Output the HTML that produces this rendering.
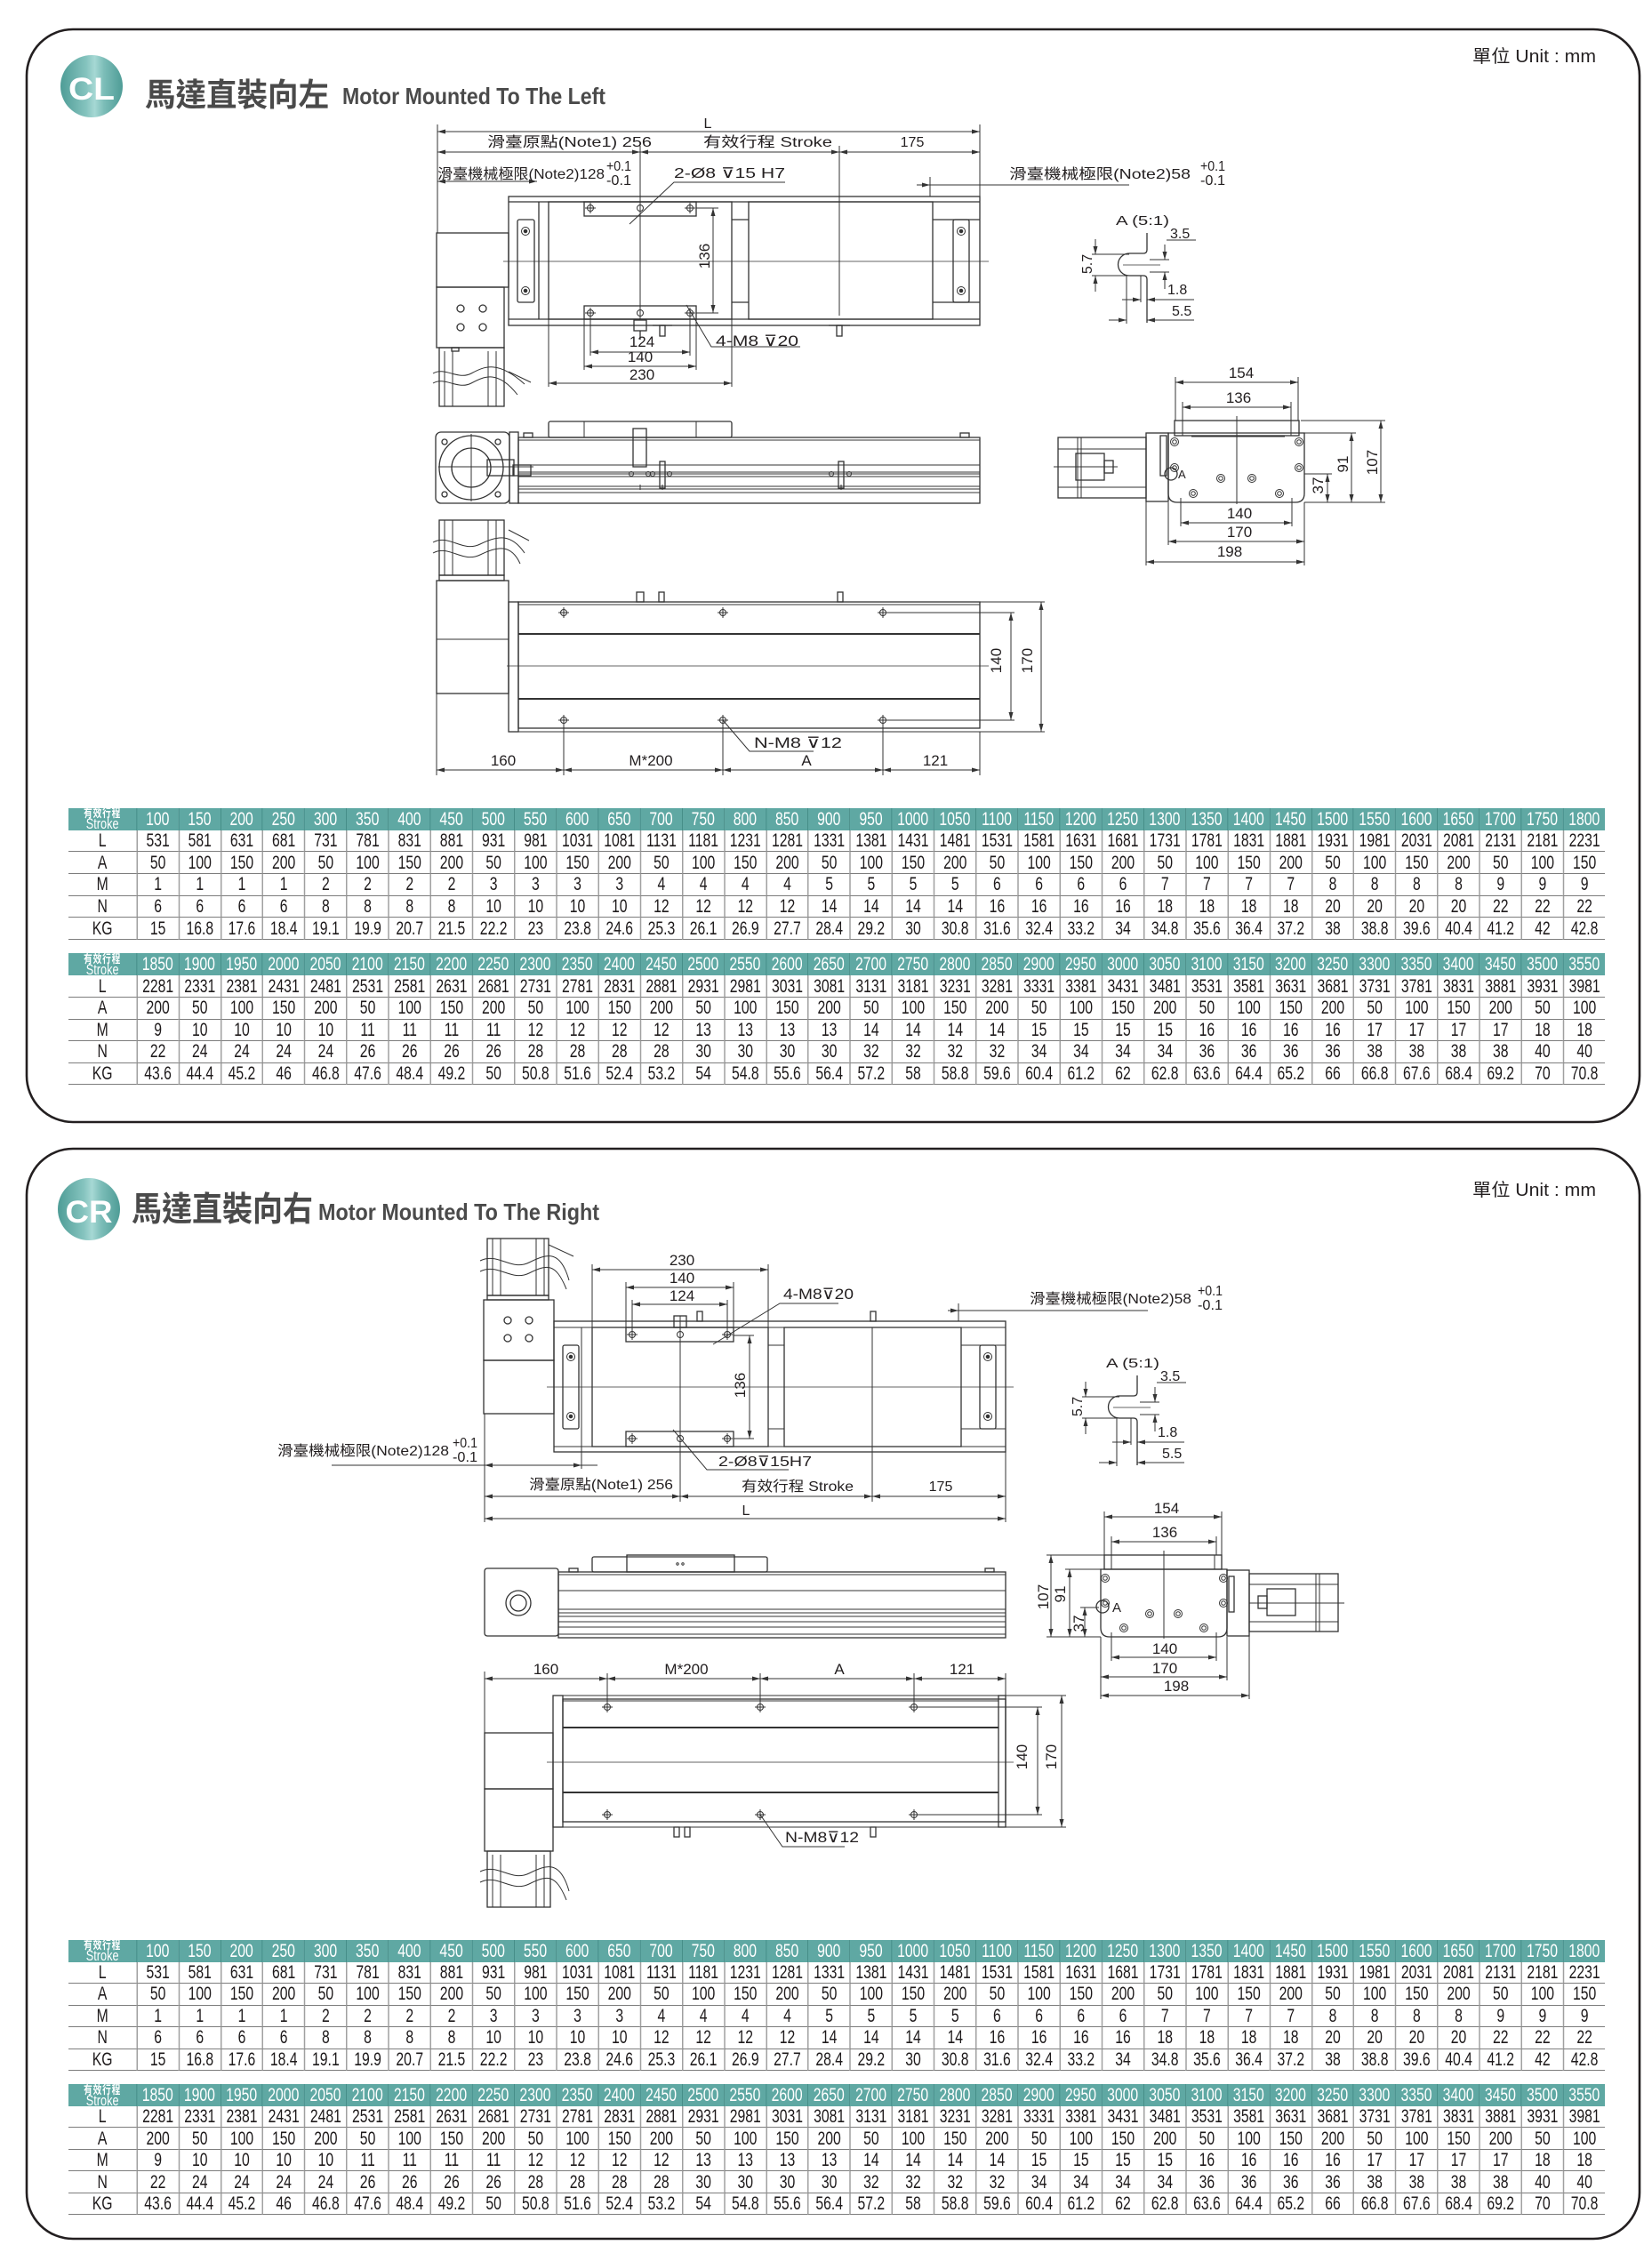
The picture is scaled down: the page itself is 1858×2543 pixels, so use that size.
<!DOCTYPE html>
<html><head><meta charset="utf-8">
<style>
html,body{margin:0;padding:0;background:#fff}
body{width:1858px;height:2543px;position:relative;overflow:hidden}
svg{position:absolute;left:0;top:0}
.f{stroke:#333;stroke-width:1;fill:none}
.s{stroke:#333;stroke-width:1.3;fill:none}
.m{marker-start:url(#a);marker-end:url(#a)}
.me{marker-end:url(#a)}
.t{font-family:"Liberation Sans","Noto Sans CJK TC","DejaVu Sans",sans-serif;font-size:16px;fill:#231f20;stroke:none}
.c{text-anchor:middle}
.g{position:absolute;left:76.7px;width:2305px;display:grid;grid-template-columns:101.7px repeat(35,62.93px);transform:scaleX(.75);transform-origin:0 0;font-family:"Liberation Sans",sans-serif;font-size:21px;color:#1e1a1b}
.g i{font-style:normal;box-sizing:border-box;display:flex;align-items:center;justify-content:center;line-height:1;border-bottom:1.6px solid #7d7d7d;border-left:2px solid #a0a0a0;white-space:nowrap}
.g i:nth-child(-n+36){background:#5fa8a3;color:#fff;border-bottom:none;border-left:1.5px solid #3e8580}
.g i:nth-child(36n+1){border-left:none}
.g i.h{flex-direction:column;font-family:"Liberation Sans","Noto Sans CJK TC",sans-serif}
.h b{display:block;line-height:11px}
.h b:first-child{font-size:13px;letter-spacing:1px}
.h b:last-child{font-size:17px;font-weight:normal;line-height:13px}
</style></head><body>
<svg width="1858" height="2543" viewBox="0 0 1858 2543">
<defs>
<marker id="a" viewBox="0 0 9 5" refX="9" refY="2.5" markerWidth="9" markerHeight="5" markerUnits="userSpaceOnUse" orient="auto-start-reverse"><path d="M0,0L9,2.5L0,5z" fill="#333"/></marker>
<linearGradient id="cg" x1="0" x2="1" y1="0" y2="0"><stop offset="0" stop-color="#4e9c96"/><stop offset=".42" stop-color="#86c4bf"/><stop offset=".55" stop-color="#a6d8d4"/><stop offset=".7" stop-color="#7cbdb8"/><stop offset="1" stop-color="#4e9c96"/></linearGradient>
<g id="hx"><circle r="3.5"/><line x1="-6" x2="6" y1="0" y2="0"/><line x1="0" x2="0" y1="-6" y2="6"/></g>
<g id="hd"><circle r="4.5"/><circle r="1.8" fill="#333"/></g>
<g id="hc"><circle r="4.5"/><circle r="2.3"/></g>
</defs>

<!-- cards -->
<path d="M82,33H1792A52,52 0 0 1 1844,85V1210A52,52 0 0 1 1792,1262H82A52,52 0 0 1 30,1210V85A52,52 0 0 1 82,33Z" fill="none" stroke="#231f20" stroke-width="2.6"/>
<path d="M82,1292H1792A52,52 0 0 1 1844,1344V2466A52,52 0 0 1 1792,2518H82A52,52 0 0 1 30,2466V1344A52,52 0 0 1 82,1292Z" fill="none" stroke="#231f20" stroke-width="2.6"/>

<!-- titles -->
<circle cx="103" cy="97" r="35" fill="url(#cg)"/>
<text x="103" y="112" text-anchor="middle" font-family="'Liberation Sans',sans-serif" font-size="35" font-weight="bold" fill="#fff" textLength="52" lengthAdjust="spacingAndGlyphs">CL</text>
<text x="163" y="119" font-family="'Liberation Sans','Noto Sans CJK TC',sans-serif" font-size="36" font-weight="bold" fill="#4a4a4a" textLength="207" lengthAdjust="spacingAndGlyphs">馬達直裝向左</text>
<text x="385" y="117" font-family="'Liberation Sans',sans-serif" font-size="26" font-weight="bold" fill="#4a4a4a" textLength="296" lengthAdjust="spacingAndGlyphs">Motor Mounted To The Left</text>
<text x="1656" y="70" font-family="'Liberation Sans','Noto Sans CJK TC',sans-serif" font-size="20" fill="#231f20" textLength="139" lengthAdjust="spacingAndGlyphs">單位 Unit : mm</text>

<circle cx="100" cy="1360" r="35" fill="url(#cg)"/>
<text x="100" y="1375" text-anchor="middle" font-family="'Liberation Sans',sans-serif" font-size="35" font-weight="bold" fill="#fff" textLength="53" lengthAdjust="spacingAndGlyphs">CR</text>
<text x="148" y="1373" font-family="'Liberation Sans','Noto Sans CJK TC',sans-serif" font-size="38" font-weight="bold" fill="#4a4a4a" textLength="204" lengthAdjust="spacingAndGlyphs">馬達直裝向右</text>
<text x="358" y="1372" font-family="'Liberation Sans',sans-serif" font-size="26" font-weight="bold" fill="#4a4a4a" textLength="316" lengthAdjust="spacingAndGlyphs">Motor Mounted To The Right</text>
<text x="1656" y="1345" font-family="'Liberation Sans','Noto Sans CJK TC',sans-serif" font-size="20" fill="#231f20" textLength="139" lengthAdjust="spacingAndGlyphs">單位 Unit : mm</text>

<!-- ================= CL TOP VIEW ================= -->
<g class="f">
<line x1="492" y1="148" x2="1102" y2="148" class="m"/>
<line x1="492" y1="140" x2="492" y2="262"/>
<line x1="1102" y1="140" x2="1102" y2="221"/>
<line x1="492" y1="171" x2="720" y2="171" class="m"/>
<line x1="720" y1="171" x2="944" y2="171" class="m"/>
<line x1="944" y1="171" x2="1102" y2="171" class="m"/>
<line x1="720" y1="164" x2="720" y2="359"/>
<line x1="944" y1="164" x2="944" y2="355"/>
<line x1="492" y1="204" x2="604" y2="204" class="m"/>
<polyline points="883,205 758,205 708,252"/>
<line x1="1031" y1="208" x2="1046" y2="208" class="me"/>
<line x1="1046" y1="208" x2="1270" y2="208"/>
<line x1="1046" y1="199" x2="1046" y2="221"/>
<line x1="802" y1="234" x2="802" y2="352" class="m"/>
<line x1="783" y1="234" x2="808" y2="234"/>
<line x1="783" y1="352" x2="808" y2="352"/>
<line x1="664" y1="396" x2="776" y2="396" class="m"/>
<line x1="657" y1="412" x2="783" y2="412" class="m"/>
<line x1="617" y1="431" x2="823" y2="431" class="m"/>
<line x1="664" y1="356" x2="664" y2="400"/>
<line x1="776" y1="356" x2="776" y2="400"/>
<line x1="657" y1="359" x2="657" y2="416"/>
<line x1="783" y1="359" x2="783" y2="416"/>
<line x1="617" y1="359" x2="617" y2="435"/>
<line x1="823" y1="359" x2="823" y2="435"/>
<polyline points="772,343 800,390 900,390"/>
<line x1="566" y1="294" x2="1112" y2="294" stroke-width=".8"/>
</g>
<g class="s">
<rect x="572" y="221" width="530" height="145"/>
<line x1="572" y1="227" x2="1102" y2="227"/>
<line x1="572" y1="359" x2="1102" y2="359"/>
<rect x="582" y="247" width="19" height="93" rx="2"/>
<line x1="606" y1="227" x2="606" y2="359"/>
<rect x="617" y="227" width="206" height="132"/>
<rect x="657" y="227" width="126" height="16"/>
<rect x="657" y="344" width="126" height="15"/>
<rect x="842" y="227" width="207" height="132"/>
<line x1="823" y1="247" x2="842" y2="247"/>
<line x1="823" y1="340" x2="842" y2="340"/>
<line x1="1049" y1="247" x2="1102" y2="247"/>
<line x1="1049" y1="340" x2="1102" y2="340"/>
<rect x="1072" y="247" width="18" height="93" rx="2"/>
<rect x="713" y="360" width="14" height="12"/><line x1="720" y1="372" x2="720" y2="382"/>
<rect x="742" y="366" width="6" height="12"/><line x1="734" y1="366" x2="756" y2="366"/>
<rect x="941" y="366" width="6" height="12"/><line x1="932" y1="366" x2="956" y2="366"/>
<!-- motor -->
<rect x="491" y="262" width="81" height="61"/>
<rect x="491" y="323" width="76" height="68"/>
<circle cx="518" cy="347" r="4"/><circle cx="543" cy="347" r="4"/><circle cx="518" cy="368" r="4"/><circle cx="543" cy="368" r="4"/>
<rect x="494" y="391" width="73" height="66"/>
<rect x="508" y="391" width="8" height="4"/>
</g>
<g class="f">
<line x1="500" y1="395" x2="500" y2="457"/><line x1="509" y1="395" x2="509" y2="457"/>
<line x1="549" y1="395" x2="549" y2="457"/><line x1="558" y1="395" x2="558" y2="457"/>
<path d="M487,420 C500,412 515,428 530,420 S560,405 590,432"/>
<path d="M487,431 C500,423 515,439 530,431 S560,416 582,444"/>
<line x1="572" y1="418" x2="597" y2="430"/>
<use href="#hd" x="591" y="260"/><use href="#hd" x="591" y="327"/>
<use href="#hd" x="1081" y="260"/><use href="#hd" x="1081" y="327"/>
<use href="#hx" x="664" y="234"/><use href="#hx" x="776" y="234"/>
<use href="#hx" x="664" y="352"/><use href="#hx" x="776" y="352"/>
<circle cx="720" cy="234" r="3.5"/><circle cx="720" cy="352" r="3.5"/>
</g>
<g class="t">
<text x="796" y="144" class="c">L</text>
<text x="548" y="165" textLength="185" lengthAdjust="spacingAndGlyphs">滑臺原點(Note1) 256</text>
<text x="791" y="165" textLength="145" lengthAdjust="spacingAndGlyphs">有效行程 Stroke</text>
<text x="1026" y="165" class="c">175</text>
<text x="492" y="201" textLength="188" lengthAdjust="spacingAndGlyphs">滑臺機械極限(Note2)128</text>
<text x="682" y="192" font-size="16" textLength="28" lengthAdjust="spacingAndGlyphs">+0.1</text><text x="682" y="208" font-size="16" textLength="28" lengthAdjust="spacingAndGlyphs">-0.1</text>
<text x="758" y="200" textLength="125" lengthAdjust="spacingAndGlyphs">2-Ø8 ⊽15 H7</text>
<text x="1135" y="201" textLength="204" lengthAdjust="spacingAndGlyphs">滑臺機械極限(Note2)58</text>
<text x="1350" y="192" font-size="16" textLength="28" lengthAdjust="spacingAndGlyphs">+0.1</text><text x="1350" y="208" font-size="16" textLength="28" lengthAdjust="spacingAndGlyphs">-0.1</text>
<text transform="translate(798,288) rotate(-90)" class="c" font-size="17">136</text>
<text x="722" y="390" class="c" font-size="17">124</text>
<text x="720" y="407" class="c" font-size="17">140</text>
<text x="722" y="427" class="c" font-size="17">230</text>
<text x="805" y="389" textLength="93" lengthAdjust="spacingAndGlyphs" font-size="17">4-M8 ⊽20</text>
</g>

<!-- A detail CL -->
<g>
<g class="f">
<path d="M1290,262V281Q1290,285 1286,285H1270A12.5,12.5 0 0 0 1270,310H1286Q1290,310 1290,314V363" stroke-width="1.3"/>
<line x1="1283" y1="310" x2="1283" y2="340"/>
<line x1="1267" y1="310" x2="1267" y2="364"/>
<line x1="1263" y1="298" x2="1305" y2="298" stroke-width=".7"/>
<line x1="1293" y1="292" x2="1315" y2="292"/>
<line x1="1293" y1="306" x2="1315" y2="306"/>
<line x1="1310" y1="275" x2="1310" y2="292" class="me"/>
<line x1="1310" y1="325" x2="1310" y2="306" class="me"/>
<line x1="1312" y1="270" x2="1345" y2="270"/>
<line x1="1232" y1="269" x2="1232" y2="286" class="me"/>
<line x1="1232" y1="328" x2="1232" y2="310" class="me"/>
<line x1="1228" y1="286" x2="1270" y2="286"/>
<line x1="1228" y1="310" x2="1270" y2="310"/>
<line x1="1262" y1="337" x2="1283" y2="337" class="me"/>
<line x1="1343" y1="337" x2="1290" y2="337" class="me"/>
<line x1="1247" y1="360" x2="1267" y2="360" class="me"/>
<line x1="1343" y1="360" x2="1290" y2="360" class="me"/>
</g>
</g>
<g class="t">
<text x="1255" y="253" font-size="15" textLength="60" lengthAdjust="spacingAndGlyphs">A (5:1)</text>
<text x="1316" y="268">3.5</text>
<text transform="translate(1228,297) rotate(-90)" class="c">5.7</text>
<text x="1313" y="331">1.8</text>
<text x="1318" y="355">5.5</text>
</g>

<!-- CL SIDE VIEW -->
<g class="s">
<rect x="490" y="486" width="83" height="80" rx="6"/>
<circle cx="530" cy="526" r="36"/>
<circle cx="530" cy="526" r="22"/>
<rect x="548" y="517" width="30" height="18"/>
<circle cx="500" cy="497" r="3"/><circle cx="560" cy="497" r="3"/><circle cx="500" cy="556" r="3"/><circle cx="560" cy="556" r="3"/>
<rect x="573" y="486" width="10" height="80"/>
<rect x="583" y="492" width="519" height="74"/>
<rect x="617" y="474" width="206" height="18" rx="2"/>
<rect x="712" y="482" width="15" height="43"/>
<rect x="742" y="519" width="6" height="30"/>
<rect x="943" y="519" width="6" height="30"/>
<rect x="577" y="523" width="20" height="12"/>
<rect x="589" y="487" width="10" height="5"/>
<rect x="1080" y="487" width="10" height="5"/>
</g>
<g class="f">
<line x1="583" y1="495" x2="1102" y2="495"/>
<line x1="583" y1="523" x2="1102" y2="523"/>
<line x1="583" y1="531" x2="1102" y2="531"/>
<line x1="583" y1="533" x2="1102" y2="533"/>
<line x1="583" y1="536" x2="1102" y2="536"/>
<line x1="583" y1="547" x2="1102" y2="547"/>
<line x1="583" y1="550" x2="1102" y2="550"/>
<line x1="583" y1="554" x2="1102" y2="554"/>
<line x1="657" y1="474" x2="657" y2="492"/>
<line x1="783" y1="474" x2="783" y2="492"/>
<line x1="530" y1="488" x2="530" y2="564"/>
<line x1="493" y1="525" x2="600" y2="525"/>
<circle cx="710" cy="533" r="2.5"/><circle cx="729" cy="533" r="2.5"/><circle cx="734" cy="533" r="2.5"/><circle cx="753" cy="533" r="2.5"/><circle cx="935" cy="533" r="2.5"/><circle cx="955" cy="533" r="2.5"/>
<line x1="720" y1="545" x2="720" y2="551"/><line x1="745" y1="545" x2="745" y2="551"/><line x1="946" y1="545" x2="946" y2="551"/>
</g>

<!-- CL END VIEW -->
<g class="s">
<rect x="1321" y="473" width="140" height="17"/>
<path d="M1314,487H1467V555Q1467,565 1457,565H1324Q1314,565 1314,555Z"/>
<rect x="1289" y="487" width="25" height="77"/>
<rect x="1190" y="492" width="99" height="68"/>
<rect x="1210" y="510" width="32" height="30"/>
<rect x="1242" y="518" width="10" height="14"/>
<rect x="1305" y="490" width="7" height="45"/>
<circle cx="1317" cy="533" r="7"/>
</g>
<g class="f">
<line x1="1330" y1="473" x2="1330" y2="490"/>
<line x1="1452" y1="473" x2="1452" y2="490"/>
<line x1="1340" y1="491" x2="1445" y2="491"/>
<line x1="1391" y1="468" x2="1391" y2="567"/>
<line x1="1212" y1="492" x2="1212" y2="560"/>
<line x1="1216" y1="492" x2="1216" y2="560"/>
<line x1="1185" y1="525" x2="1257" y2="525"/>
<line x1="1190" y1="505" x2="1289" y2="505"/>
<line x1="1190" y1="548" x2="1289" y2="548"/>
<use href="#hc" x="1321" y="497"/><use href="#hc" x="1461" y="497"/>
<use href="#hc" x="1321" y="526"/><use href="#hc" x="1461" y="526"/>
<use href="#hc" x="1373" y="538"/><use href="#hc" x="1408" y="538"/>
<use href="#hc" x="1342" y="555"/><use href="#hc" x="1439" y="555"/>
<line x1="1322" y1="430" x2="1460" y2="430" class="m"/>
<line x1="1322" y1="424" x2="1322" y2="473"/><line x1="1460" y1="424" x2="1460" y2="473"/>
<line x1="1330" y1="458" x2="1452" y2="458" class="m"/>
<line x1="1330" y1="452" x2="1330" y2="473"/><line x1="1452" y1="452" x2="1452" y2="473"/>
<line x1="1553" y1="473" x2="1553" y2="565" class="m"/>
<line x1="1463" y1="473" x2="1558" y2="473"/>
<line x1="1467" y1="565" x2="1558" y2="565"/>
<line x1="1520" y1="487" x2="1520" y2="565" class="m"/>
<line x1="1467" y1="487" x2="1525" y2="487"/>
<line x1="1493" y1="533" x2="1493" y2="565" class="m"/>
<line x1="1467" y1="533" x2="1498" y2="533"/>
<line x1="1328" y1="588" x2="1453" y2="588" class="m"/>
<line x1="1328" y1="560" x2="1328" y2="592"/><line x1="1453" y1="560" x2="1453" y2="592"/>
<line x1="1314" y1="609" x2="1467" y2="609" class="m"/>
<line x1="1314" y1="565" x2="1314" y2="613"/><line x1="1467" y1="565" x2="1467" y2="636"/>
<line x1="1289" y1="632" x2="1467" y2="632" class="m"/>
<line x1="1289" y1="564" x2="1289" y2="636"/>
</g>
<g class="t">
<text x="1396" y="425" class="c" font-size="17">154</text>
<text x="1393" y="453" class="c" font-size="17">136</text>
<text x="1394" y="583" class="c" font-size="17">140</text>
<text x="1394" y="604" class="c" font-size="17">170</text>
<text x="1383" y="626" class="c" font-size="17">198</text>
<text transform="translate(1549,520) rotate(-90)" class="c" font-size="17">107</text>
<text transform="translate(1516,522) rotate(-90)" class="c" font-size="17">91</text>
<text transform="translate(1488,546) rotate(-90)" class="c" font-size="17">37</text>
<text x="1325" y="538" font-size="13">A</text>
</g>

<!-- CL BOTTOM VIEW -->
<g class="s">
<rect x="494" y="585" width="73" height="62"/>
<rect x="494" y="647" width="73" height="6"/>
<rect x="491" y="653" width="81" height="127"/>
<rect x="572" y="677" width="11" height="146"/>
<rect x="583" y="677" width="519" height="142"/>
<rect x="716" y="666" width="8" height="11"/>
<rect x="741" y="666" width="6" height="11"/>
<rect x="942" y="666" width="6" height="11"/>
</g>
<g class="f">
<line x1="500" y1="585" x2="500" y2="647"/><line x1="509" y1="585" x2="509" y2="647"/>
<line x1="549" y1="585" x2="549" y2="647"/><line x1="558" y1="585" x2="558" y2="647"/>
<path d="M487,610 C505,600 520,622 540,612 S575,600 590,622"/>
<path d="M487,622 C505,612 520,634 540,624 S575,612 585,634"/>
<line x1="572" y1="596" x2="595" y2="608"/>
<line x1="491" y1="719" x2="572" y2="719"/>
<line x1="583" y1="680" x2="1102" y2="680"/>
<line x1="583" y1="713" x2="1102" y2="713" stroke-width="2"/>
<line x1="583" y1="786" x2="1102" y2="786" stroke-width="2"/>
<line x1="572" y1="823" x2="1102" y2="823"/>
<line x1="570" y1="749" x2="1112" y2="749" stroke-width=".8"/>
<line x1="707" y1="677" x2="733" y2="677"/><line x1="733" y1="677" x2="757" y2="677"/><line x1="933" y1="677" x2="957" y2="677"/>
<use href="#hx" x="634" y="689"/><use href="#hx" x="813" y="689"/><use href="#hx" x="993" y="689"/>
<use href="#hx" x="634" y="810"/><use href="#hx" x="813" y="810"/><use href="#hx" x="993" y="810"/>
<line x1="491" y1="866" x2="634" y2="866" class="m"/>
<line x1="634" y1="866" x2="813" y2="866" class="m"/>
<line x1="813" y1="866" x2="993" y2="866" class="m"/>
<line x1="993" y1="866" x2="1102" y2="866" class="m"/>
<line x1="491" y1="780" x2="491" y2="872"/>
<line x1="634" y1="814" x2="634" y2="872"/>
<line x1="813" y1="814" x2="813" y2="872"/>
<line x1="993" y1="814" x2="993" y2="872"/>
<line x1="1102" y1="823" x2="1102" y2="872"/>
<line x1="1137" y1="689" x2="1137" y2="810" class="m"/>
<line x1="1171" y1="677" x2="1171" y2="823" class="m"/>
<line x1="997" y1="689" x2="1141" y2="689"/>
<line x1="997" y1="810" x2="1141" y2="810"/>
<line x1="1102" y1="677" x2="1175" y2="677"/>
<line x1="1102" y1="823" x2="1175" y2="823"/>
<polyline points="813,810 843,845 915,845"/>
</g>
<g class="t">
<text transform="translate(1126,743) rotate(-90)" class="c" font-size="17">140</text>
<text transform="translate(1161,743) rotate(-90)" class="c" font-size="17">170</text>
<text x="566" y="861" class="c" font-size="17">160</text>
<text x="732" y="861" class="c" font-size="17">M*200</text>
<text x="907" y="861" class="c" font-size="17">A</text>
<text x="1052" y="861" class="c" font-size="17">121</text>
<text x="848" y="841" textLength="99" lengthAdjust="spacingAndGlyphs" font-size="17">N-M8 ⊽12</text>
</g>

<!-- ================= CR TOP VIEW ================= -->
<g class="s">
<rect x="548" y="1393" width="69" height="64"/>
<rect x="548" y="1457" width="69" height="5"/>
<rect x="544" y="1462" width="79" height="68"/>
<circle cx="571" cy="1485" r="4"/><circle cx="595" cy="1485" r="4"/><circle cx="571" cy="1505" r="4"/><circle cx="595" cy="1505" r="4"/>
<rect x="544" y="1530" width="79" height="60"/>
<rect x="623" y="1486" width="508" height="147"/>
<rect x="633" y="1513" width="18" height="94" rx="2"/>
<rect x="666" y="1493" width="198" height="134"/>
<rect x="704" y="1493" width="121" height="16"/>
<rect x="704" y="1610" width="121" height="17"/>
<rect x="882" y="1493" width="199" height="134"/>
<rect x="1102" y="1513" width="18" height="94" rx="2"/>
<rect x="758" y="1480" width="14" height="13"/>
<rect x="784" y="1475" width="6" height="11"/>
<rect x="979" y="1475" width="6" height="11"/>
</g>
<g class="f">
<line x1="554" y1="1393" x2="554" y2="1457"/><line x1="563" y1="1393" x2="563" y2="1457"/>
<line x1="603" y1="1393" x2="603" y2="1457"/><line x1="612" y1="1393" x2="612" y2="1457"/>
<path d="M540,1418 C560,1408 575,1430 595,1420 S630,1405 640,1440"/>
<path d="M540,1430 C560,1420 575,1442 595,1432 S625,1420 637,1450"/>
<line x1="617" y1="1400" x2="645" y2="1413"/>
<line x1="623" y1="1493" x2="1131" y2="1493"/>
<line x1="623" y1="1627" x2="1131" y2="1627"/>
<line x1="654" y1="1493" x2="654" y2="1633"/>
<line x1="864" y1="1513" x2="882" y2="1513"/><line x1="864" y1="1607" x2="882" y2="1607"/>
<line x1="1081" y1="1513" x2="1131" y2="1513"/><line x1="1081" y1="1607" x2="1131" y2="1607"/>
<line x1="615" y1="1560" x2="1140" y2="1560" stroke-width=".8"/>
<line x1="765" y1="1480" x2="765" y2="1689"/>
<line x1="981" y1="1493" x2="981" y2="1689"/>
<line x1="775" y1="1486" x2="800" y2="1486"/><line x1="970" y1="1486" x2="994" y2="1486"/>
<use href="#hd" x="642" y="1526"/><use href="#hd" x="642" y="1593"/>
<use href="#hd" x="1111" y="1526"/><use href="#hd" x="1111" y="1593"/>
<use href="#hx" x="711" y="1501"/><use href="#hx" x="818" y="1501"/>
<use href="#hx" x="711" y="1618"/><use href="#hx" x="818" y="1618"/>
<circle cx="765" cy="1501" r="3.5"/><circle cx="765" cy="1618" r="3.5"/>
<line x1="843" y1="1502" x2="843" y2="1618" class="m"/>
<line x1="825" y1="1502" x2="848" y2="1502"/><line x1="825" y1="1618" x2="848" y2="1618"/>
<line x1="666" y1="1428" x2="864" y2="1428" class="m"/>
<line x1="666" y1="1422" x2="666" y2="1493"/><line x1="864" y1="1422" x2="864" y2="1493"/>
<line x1="704" y1="1448" x2="825" y2="1448" class="m"/>
<line x1="704" y1="1442" x2="704" y2="1493"/><line x1="825" y1="1442" x2="825" y2="1493"/>
<line x1="711" y1="1467" x2="818" y2="1467" class="m"/>
<line x1="711" y1="1462" x2="711" y2="1498"/><line x1="818" y1="1462" x2="818" y2="1498"/>
<polyline points="802,1512 877,1466 943,1466"/>
<line x1="1066" y1="1474" x2="1078" y2="1474" class="me"/>
<line x1="1078" y1="1474" x2="1291" y2="1474"/>
<line x1="1078" y1="1466" x2="1078" y2="1486"/>
<line x1="373" y1="1648" x2="545" y2="1648"/>
<line x1="545" y1="1648" x2="654" y2="1648" class="m"/>
<line x1="654" y1="1648" x2="672" y2="1648"/>
<line x1="654" y1="1633" x2="654" y2="1652"/>
<line x1="545" y1="1590" x2="545" y2="1712"/>
<polyline points="757,1608 795,1653 887,1653"/>
<line x1="545" y1="1683" x2="765" y2="1683" class="m"/>
<line x1="765" y1="1683" x2="981" y2="1683" class="m"/>
<line x1="981" y1="1683" x2="1131" y2="1683" class="m"/>
<line x1="1131" y1="1633" x2="1131" y2="1712"/>
<line x1="545" y1="1708" x2="1131" y2="1708" class="m"/>
</g>
<g class="t">
<text x="767" y="1423" class="c" font-size="17">230</text>
<text x="767" y="1443" class="c" font-size="17">140</text>
<text x="767" y="1463" class="c" font-size="17">124</text>
<text x="881" y="1461" textLength="79" lengthAdjust="spacingAndGlyphs" font-size="17">4-M8⊽20</text>
<text x="1158" y="1466" textLength="182" lengthAdjust="spacingAndGlyphs">滑臺機械極限(Note2)58</text>
<text x="1347" y="1457" font-size="16" textLength="28" lengthAdjust="spacingAndGlyphs">+0.1</text><text x="1347" y="1473" font-size="16" textLength="28" lengthAdjust="spacingAndGlyphs">-0.1</text>
<text x="312" y="1637" textLength="193" lengthAdjust="spacingAndGlyphs">滑臺機械極限(Note2)128</text>
<text x="509" y="1628" font-size="16" textLength="28" lengthAdjust="spacingAndGlyphs">+0.1</text><text x="509" y="1644" font-size="16" textLength="28" lengthAdjust="spacingAndGlyphs">-0.1</text>
<text x="808" y="1649" textLength="105" lengthAdjust="spacingAndGlyphs">2-Ø8⊽15H7</text>
<text transform="translate(838,1558) rotate(-90)" class="c" font-size="17">136</text>
<text x="595" y="1675" textLength="162" lengthAdjust="spacingAndGlyphs">滑臺原點(Note1) 256</text>
<text x="834" y="1677" textLength="126" lengthAdjust="spacingAndGlyphs">有效行程 Stroke</text>
<text x="1058" y="1677" class="c">175</text>
<text x="839" y="1704" class="c">L</text>
</g>

<!-- A detail CR -->
<g transform="translate(-11,1285)">
<g class="f">
<path d="M1290,262V281Q1290,285 1286,285H1270A12.5,12.5 0 0 0 1270,310H1286Q1290,310 1290,314V363" stroke-width="1.3"/>
<line x1="1283" y1="310" x2="1283" y2="340"/>
<line x1="1267" y1="310" x2="1267" y2="364"/>
<line x1="1263" y1="298" x2="1305" y2="298" stroke-width=".7"/>
<line x1="1293" y1="292" x2="1315" y2="292"/>
<line x1="1293" y1="306" x2="1315" y2="306"/>
<line x1="1310" y1="275" x2="1310" y2="292" class="me"/>
<line x1="1310" y1="325" x2="1310" y2="306" class="me"/>
<line x1="1312" y1="270" x2="1345" y2="270"/>
<line x1="1232" y1="269" x2="1232" y2="286" class="me"/>
<line x1="1232" y1="328" x2="1232" y2="310" class="me"/>
<line x1="1228" y1="286" x2="1270" y2="286"/>
<line x1="1228" y1="310" x2="1270" y2="310"/>
<line x1="1262" y1="337" x2="1283" y2="337" class="me"/>
<line x1="1343" y1="337" x2="1290" y2="337" class="me"/>
<line x1="1247" y1="360" x2="1267" y2="360" class="me"/>
<line x1="1343" y1="360" x2="1290" y2="360" class="me"/>
</g>
<g class="t">
<text x="1255" y="253" font-size="15" textLength="60" lengthAdjust="spacingAndGlyphs">A (5:1)</text>
<text x="1316" y="268">3.5</text>
<text transform="translate(1228,297) rotate(-90)" class="c">5.7</text>
<text x="1313" y="331">1.8</text>
<text x="1318" y="355">5.5</text>
</g>
</g>

<!-- CR SIDE VIEW -->
<g class="s">
<rect x="545" y="1764" width="83" height="76" rx="3"/>
<circle cx="583" cy="1803" r="14"/><circle cx="583" cy="1803" r="9"/>
<rect x="628" y="1768" width="503" height="74"/>
<rect x="666" y="1751" width="197" height="17" rx="2"/>
<rect x="705" y="1749" width="121" height="19"/>
<rect x="640" y="1764" width="10" height="4"/>
<rect x="1108" y="1764" width="10" height="4"/>
</g>
<g class="f">
<line x1="628" y1="1771" x2="1131" y2="1771"/>
<line x1="628" y1="1789" x2="1131" y2="1789"/>
<line x1="628" y1="1810" x2="1131" y2="1810"/>
<line x1="628" y1="1814" x2="1131" y2="1814"/>
<line x1="628" y1="1818" x2="1131" y2="1818"/>
<line x1="628" y1="1824" x2="1131" y2="1824"/>
<line x1="628" y1="1830" x2="1131" y2="1830"/>
<line x1="628" y1="1838" x2="1131" y2="1838"/>
<circle cx="762" cy="1759" r="1.2"/><circle cx="768" cy="1759" r="1.2"/>
</g>

<!-- CR END VIEW -->
<g class="s">
<rect x="1242" y="1749" width="132" height="16"/>
<path d="M1238,1765H1380V1831Q1380,1841 1370,1841H1248Q1238,1841 1238,1831Z"/>
<rect x="1380" y="1766" width="25" height="74"/>
<rect x="1405" y="1770" width="100" height="65"/>
<rect x="1425" y="1787" width="32" height="30"/>
<rect x="1415" y="1795" width="10" height="14"/>
<rect x="1382" y="1773" width="6" height="40"/>
<circle cx="1240" cy="1807" r="7"/>
</g>
<g class="f">
<line x1="1250" y1="1749" x2="1250" y2="1765"/><line x1="1366" y1="1749" x2="1366" y2="1765"/>
<line x1="1309" y1="1744" x2="1309" y2="1843"/>
<line x1="1480" y1="1770" x2="1480" y2="1835"/><line x1="1484" y1="1770" x2="1484" y2="1835"/>
<line x1="1405" y1="1803" x2="1512" y2="1803"/>
<line x1="1405" y1="1782" x2="1505" y2="1782"/><line x1="1405" y1="1824" x2="1505" y2="1824"/>
<use href="#hc" x="1376" y="1775"/><use href="#hc" x="1243" y="1775"/>
<use href="#hc" x="1376" y="1803"/><use href="#hc" x="1243" y="1803"/>
<use href="#hc" x="1325" y="1815"/><use href="#hc" x="1293" y="1815"/>
<use href="#hc" x="1354" y="1831"/><use href="#hc" x="1264" y="1831"/>
<line x1="1242" y1="1706" x2="1374" y2="1706" class="m"/>
<line x1="1242" y1="1700" x2="1242" y2="1749"/><line x1="1374" y1="1700" x2="1374" y2="1749"/>
<line x1="1250" y1="1734" x2="1368" y2="1734" class="m"/>
<line x1="1250" y1="1728" x2="1250" y2="1749"/><line x1="1368" y1="1728" x2="1368" y2="1749"/>
<line x1="1182" y1="1749" x2="1182" y2="1841" class="m"/>
<line x1="1177" y1="1749" x2="1242" y2="1749"/>
<line x1="1177" y1="1841" x2="1238" y2="1841"/>
<line x1="1203" y1="1765" x2="1203" y2="1841" class="m"/>
<line x1="1198" y1="1765" x2="1238" y2="1765"/>
<line x1="1220" y1="1808" x2="1220" y2="1841" class="m"/>
<line x1="1215" y1="1808" x2="1236" y2="1808"/>
<line x1="1250" y1="1864" x2="1368" y2="1864" class="m"/>
<line x1="1250" y1="1836" x2="1250" y2="1868"/><line x1="1368" y1="1836" x2="1368" y2="1868"/>
<line x1="1238" y1="1886" x2="1380" y2="1886" class="m"/>
<line x1="1238" y1="1841" x2="1238" y2="1911"/><line x1="1380" y1="1841" x2="1380" y2="1890"/>
<line x1="1238" y1="1907" x2="1405" y2="1907" class="m"/>
<line x1="1405" y1="1840" x2="1405" y2="1911"/>
</g>
<g class="t">
<text x="1312" y="1702" class="c" font-size="17">154</text>
<text x="1310" y="1729" class="c" font-size="17">136</text>
<text x="1310" y="1860" class="c" font-size="17">140</text>
<text x="1310" y="1882" class="c" font-size="17">170</text>
<text x="1323" y="1902" class="c" font-size="17">198</text>
<text transform="translate(1179,1796) rotate(-90)" class="c" font-size="17">107</text>
<text transform="translate(1198,1793) rotate(-90)" class="c" font-size="17">91</text>
<text transform="translate(1219,1826) rotate(-90)" class="c" font-size="17">37</text>
<text x="1251" y="1813" font-size="15">A</text>
</g>

<!-- CR BOTTOM VIEW -->
<g class="s">
<rect x="545" y="1949" width="77" height="63"/>
<rect x="545" y="2012" width="77" height="70"/>
<rect x="548" y="2082" width="71" height="63"/>
<rect x="622" y="1907" width="11" height="148"/>
<rect x="633" y="1911" width="498" height="138"/>
<rect x="1123" y="1907" width="8" height="148"/>
<rect x="758" y="2055" width="6" height="11"/>
<rect x="770" y="2055" width="6" height="11"/>
<rect x="979" y="2055" width="6" height="11"/>
</g>
<g class="f">
<line x1="554" y1="2086" x2="554" y2="2145"/><line x1="563" y1="2086" x2="563" y2="2145"/>
<line x1="603" y1="2086" x2="603" y2="2145"/><line x1="612" y1="2086" x2="612" y2="2145"/>
<path d="M540,2105 C560,2095 575,2117 595,2107 S630,2092 640,2127"/>
<path d="M540,2117 C560,2107 575,2129 595,2119 S625,2107 637,2137"/>
<line x1="622" y1="1907" x2="1131" y2="1907"/>
<line x1="633" y1="1913" x2="1123" y2="1913"/>
<line x1="633" y1="1943" x2="1123" y2="1943" stroke-width="2"/>
<line x1="633" y1="2016" x2="1123" y2="2016" stroke-width="2"/>
<line x1="622" y1="2055" x2="1131" y2="2055"/>
<line x1="615" y1="1982" x2="1140" y2="1982" stroke-width=".8"/>
<line x1="750" y1="2055" x2="790" y2="2055"/>
<use href="#hx" x="683" y="1920"/><use href="#hx" x="855" y="1920"/><use href="#hx" x="1028" y="1920"/>
<use href="#hx" x="683" y="2041"/><use href="#hx" x="855" y="2041"/><use href="#hx" x="1028" y="2041"/>
<line x1="545" y1="1888" x2="683" y2="1888" class="m"/>
<line x1="683" y1="1888" x2="855" y2="1888" class="m"/>
<line x1="855" y1="1888" x2="1028" y2="1888" class="m"/>
<line x1="1028" y1="1888" x2="1131" y2="1888" class="m"/>
<line x1="545" y1="1880" x2="545" y2="1949"/>
<line x1="683" y1="1882" x2="683" y2="1916"/>
<line x1="855" y1="1882" x2="855" y2="1916"/>
<line x1="1028" y1="1882" x2="1028" y2="1916"/>
<line x1="1131" y1="1882" x2="1131" y2="1907"/>
<line x1="1167" y1="1920" x2="1167" y2="2041" class="m"/>
<line x1="1194" y1="1907" x2="1194" y2="2055" class="m"/>
<line x1="1032" y1="1920" x2="1172" y2="1920"/>
<line x1="1032" y1="2041" x2="1172" y2="2041"/>
<line x1="1131" y1="1907" x2="1199" y2="1907"/>
<line x1="1131" y1="2055" x2="1199" y2="2055"/>
<polyline points="855,2041 880,2077 950,2077"/>
</g>
<g class="t">
<text x="614" y="1883" class="c" font-size="17">160</text>
<text x="772" y="1883" class="c" font-size="17">M*200</text>
<text x="944" y="1883" class="c" font-size="17">A</text>
<text x="1082" y="1883" class="c" font-size="17">121</text>
<text transform="translate(1155,1976) rotate(-90)" class="c" font-size="17">140</text>
<text transform="translate(1188,1976) rotate(-90)" class="c" font-size="17">170</text>
<text x="883" y="2072" textLength="83" lengthAdjust="spacingAndGlyphs" font-size="17">N-M8⊽12</text>
</g>
</svg>

<!-- ===== TABLES ===== -->
<div class="g" style="top:908.5px;grid-template-rows:25.2px repeat(5,24.66px)">
<i class="h"><b>有效行程</b><b>Stroke</b></i><i>100</i><i>150</i><i>200</i><i>250</i><i>300</i><i>350</i><i>400</i><i>450</i><i>500</i><i>550</i><i>600</i><i>650</i><i>700</i><i>750</i><i>800</i><i>850</i><i>900</i><i>950</i><i>1000</i><i>1050</i><i>1100</i><i>1150</i><i>1200</i><i>1250</i><i>1300</i><i>1350</i><i>1400</i><i>1450</i><i>1500</i><i>1550</i><i>1600</i><i>1650</i><i>1700</i><i>1750</i><i>1800</i>
<i>L</i><i>531</i><i>581</i><i>631</i><i>681</i><i>731</i><i>781</i><i>831</i><i>881</i><i>931</i><i>981</i><i>1031</i><i>1081</i><i>1131</i><i>1181</i><i>1231</i><i>1281</i><i>1331</i><i>1381</i><i>1431</i><i>1481</i><i>1531</i><i>1581</i><i>1631</i><i>1681</i><i>1731</i><i>1781</i><i>1831</i><i>1881</i><i>1931</i><i>1981</i><i>2031</i><i>2081</i><i>2131</i><i>2181</i><i>2231</i>
<i>A</i><i>50</i><i>100</i><i>150</i><i>200</i><i>50</i><i>100</i><i>150</i><i>200</i><i>50</i><i>100</i><i>150</i><i>200</i><i>50</i><i>100</i><i>150</i><i>200</i><i>50</i><i>100</i><i>150</i><i>200</i><i>50</i><i>100</i><i>150</i><i>200</i><i>50</i><i>100</i><i>150</i><i>200</i><i>50</i><i>100</i><i>150</i><i>200</i><i>50</i><i>100</i><i>150</i>
<i>M</i><i>1</i><i>1</i><i>1</i><i>1</i><i>2</i><i>2</i><i>2</i><i>2</i><i>3</i><i>3</i><i>3</i><i>3</i><i>4</i><i>4</i><i>4</i><i>4</i><i>5</i><i>5</i><i>5</i><i>5</i><i>6</i><i>6</i><i>6</i><i>6</i><i>7</i><i>7</i><i>7</i><i>7</i><i>8</i><i>8</i><i>8</i><i>8</i><i>9</i><i>9</i><i>9</i>
<i>N</i><i>6</i><i>6</i><i>6</i><i>6</i><i>8</i><i>8</i><i>8</i><i>8</i><i>10</i><i>10</i><i>10</i><i>10</i><i>12</i><i>12</i><i>12</i><i>12</i><i>14</i><i>14</i><i>14</i><i>14</i><i>16</i><i>16</i><i>16</i><i>16</i><i>18</i><i>18</i><i>18</i><i>18</i><i>20</i><i>20</i><i>20</i><i>20</i><i>22</i><i>22</i><i>22</i>
<i>KG</i><i>15</i><i>16.8</i><i>17.6</i><i>18.4</i><i>19.1</i><i>19.9</i><i>20.7</i><i>21.5</i><i>22.2</i><i>23</i><i>23.8</i><i>24.6</i><i>25.3</i><i>26.1</i><i>26.9</i><i>27.7</i><i>28.4</i><i>29.2</i><i>30</i><i>30.8</i><i>31.6</i><i>32.4</i><i>33.2</i><i>34</i><i>34.8</i><i>35.6</i><i>36.4</i><i>37.2</i><i>38</i><i>38.8</i><i>39.6</i><i>40.4</i><i>41.2</i><i>42</i><i>42.8</i>
</div>

<div class="g" style="top:1072px;grid-template-rows:25.2px repeat(5,24.66px)">
<i class="h"><b>有效行程</b><b>Stroke</b></i><i>1850</i><i>1900</i><i>1950</i><i>2000</i><i>2050</i><i>2100</i><i>2150</i><i>2200</i><i>2250</i><i>2300</i><i>2350</i><i>2400</i><i>2450</i><i>2500</i><i>2550</i><i>2600</i><i>2650</i><i>2700</i><i>2750</i><i>2800</i><i>2850</i><i>2900</i><i>2950</i><i>3000</i><i>3050</i><i>3100</i><i>3150</i><i>3200</i><i>3250</i><i>3300</i><i>3350</i><i>3400</i><i>3450</i><i>3500</i><i>3550</i>
<i>L</i><i>2281</i><i>2331</i><i>2381</i><i>2431</i><i>2481</i><i>2531</i><i>2581</i><i>2631</i><i>2681</i><i>2731</i><i>2781</i><i>2831</i><i>2881</i><i>2931</i><i>2981</i><i>3031</i><i>3081</i><i>3131</i><i>3181</i><i>3231</i><i>3281</i><i>3331</i><i>3381</i><i>3431</i><i>3481</i><i>3531</i><i>3581</i><i>3631</i><i>3681</i><i>3731</i><i>3781</i><i>3831</i><i>3881</i><i>3931</i><i>3981</i>
<i>A</i><i>200</i><i>50</i><i>100</i><i>150</i><i>200</i><i>50</i><i>100</i><i>150</i><i>200</i><i>50</i><i>100</i><i>150</i><i>200</i><i>50</i><i>100</i><i>150</i><i>200</i><i>50</i><i>100</i><i>150</i><i>200</i><i>50</i><i>100</i><i>150</i><i>200</i><i>50</i><i>100</i><i>150</i><i>200</i><i>50</i><i>100</i><i>150</i><i>200</i><i>50</i><i>100</i>
<i>M</i><i>9</i><i>10</i><i>10</i><i>10</i><i>10</i><i>11</i><i>11</i><i>11</i><i>11</i><i>12</i><i>12</i><i>12</i><i>12</i><i>13</i><i>13</i><i>13</i><i>13</i><i>14</i><i>14</i><i>14</i><i>14</i><i>15</i><i>15</i><i>15</i><i>15</i><i>16</i><i>16</i><i>16</i><i>16</i><i>17</i><i>17</i><i>17</i><i>17</i><i>18</i><i>18</i>
<i>N</i><i>22</i><i>24</i><i>24</i><i>24</i><i>24</i><i>26</i><i>26</i><i>26</i><i>26</i><i>28</i><i>28</i><i>28</i><i>28</i><i>30</i><i>30</i><i>30</i><i>30</i><i>32</i><i>32</i><i>32</i><i>32</i><i>34</i><i>34</i><i>34</i><i>34</i><i>36</i><i>36</i><i>36</i><i>36</i><i>38</i><i>38</i><i>38</i><i>38</i><i>40</i><i>40</i>
<i>KG</i><i>43.6</i><i>44.4</i><i>45.2</i><i>46</i><i>46.8</i><i>47.6</i><i>48.4</i><i>49.2</i><i>50</i><i>50.8</i><i>51.6</i><i>52.4</i><i>53.2</i><i>54</i><i>54.8</i><i>55.6</i><i>56.4</i><i>57.2</i><i>58</i><i>58.8</i><i>59.6</i><i>60.4</i><i>61.2</i><i>62</i><i>62.8</i><i>63.6</i><i>64.4</i><i>65.2</i><i>66</i><i>66.8</i><i>67.6</i><i>68.4</i><i>69.2</i><i>70</i><i>70.8</i>
</div>

<div class="g" style="top:2182.3px;grid-template-rows:24.4px repeat(5,24.52px)">
<i class="h"><b>有效行程</b><b>Stroke</b></i><i>100</i><i>150</i><i>200</i><i>250</i><i>300</i><i>350</i><i>400</i><i>450</i><i>500</i><i>550</i><i>600</i><i>650</i><i>700</i><i>750</i><i>800</i><i>850</i><i>900</i><i>950</i><i>1000</i><i>1050</i><i>1100</i><i>1150</i><i>1200</i><i>1250</i><i>1300</i><i>1350</i><i>1400</i><i>1450</i><i>1500</i><i>1550</i><i>1600</i><i>1650</i><i>1700</i><i>1750</i><i>1800</i>
<i>L</i><i>531</i><i>581</i><i>631</i><i>681</i><i>731</i><i>781</i><i>831</i><i>881</i><i>931</i><i>981</i><i>1031</i><i>1081</i><i>1131</i><i>1181</i><i>1231</i><i>1281</i><i>1331</i><i>1381</i><i>1431</i><i>1481</i><i>1531</i><i>1581</i><i>1631</i><i>1681</i><i>1731</i><i>1781</i><i>1831</i><i>1881</i><i>1931</i><i>1981</i><i>2031</i><i>2081</i><i>2131</i><i>2181</i><i>2231</i>
<i>A</i><i>50</i><i>100</i><i>150</i><i>200</i><i>50</i><i>100</i><i>150</i><i>200</i><i>50</i><i>100</i><i>150</i><i>200</i><i>50</i><i>100</i><i>150</i><i>200</i><i>50</i><i>100</i><i>150</i><i>200</i><i>50</i><i>100</i><i>150</i><i>200</i><i>50</i><i>100</i><i>150</i><i>200</i><i>50</i><i>100</i><i>150</i><i>200</i><i>50</i><i>100</i><i>150</i>
<i>M</i><i>1</i><i>1</i><i>1</i><i>1</i><i>2</i><i>2</i><i>2</i><i>2</i><i>3</i><i>3</i><i>3</i><i>3</i><i>4</i><i>4</i><i>4</i><i>4</i><i>5</i><i>5</i><i>5</i><i>5</i><i>6</i><i>6</i><i>6</i><i>6</i><i>7</i><i>7</i><i>7</i><i>7</i><i>8</i><i>8</i><i>8</i><i>8</i><i>9</i><i>9</i><i>9</i>
<i>N</i><i>6</i><i>6</i><i>6</i><i>6</i><i>8</i><i>8</i><i>8</i><i>8</i><i>10</i><i>10</i><i>10</i><i>10</i><i>12</i><i>12</i><i>12</i><i>12</i><i>14</i><i>14</i><i>14</i><i>14</i><i>16</i><i>16</i><i>16</i><i>16</i><i>18</i><i>18</i><i>18</i><i>18</i><i>20</i><i>20</i><i>20</i><i>20</i><i>22</i><i>22</i><i>22</i>
<i>KG</i><i>15</i><i>16.8</i><i>17.6</i><i>18.4</i><i>19.1</i><i>19.9</i><i>20.7</i><i>21.5</i><i>22.2</i><i>23</i><i>23.8</i><i>24.6</i><i>25.3</i><i>26.1</i><i>26.9</i><i>27.7</i><i>28.4</i><i>29.2</i><i>30</i><i>30.8</i><i>31.6</i><i>32.4</i><i>33.2</i><i>34</i><i>34.8</i><i>35.6</i><i>36.4</i><i>37.2</i><i>38</i><i>38.8</i><i>39.6</i><i>40.4</i><i>41.2</i><i>42</i><i>42.8</i>
</div>

<div class="g" style="top:2344.3px;grid-template-rows:24.6px repeat(5,24.52px)">
<i class="h"><b>有效行程</b><b>Stroke</b></i><i>1850</i><i>1900</i><i>1950</i><i>2000</i><i>2050</i><i>2100</i><i>2150</i><i>2200</i><i>2250</i><i>2300</i><i>2350</i><i>2400</i><i>2450</i><i>2500</i><i>2550</i><i>2600</i><i>2650</i><i>2700</i><i>2750</i><i>2800</i><i>2850</i><i>2900</i><i>2950</i><i>3000</i><i>3050</i><i>3100</i><i>3150</i><i>3200</i><i>3250</i><i>3300</i><i>3350</i><i>3400</i><i>3450</i><i>3500</i><i>3550</i>
<i>L</i><i>2281</i><i>2331</i><i>2381</i><i>2431</i><i>2481</i><i>2531</i><i>2581</i><i>2631</i><i>2681</i><i>2731</i><i>2781</i><i>2831</i><i>2881</i><i>2931</i><i>2981</i><i>3031</i><i>3081</i><i>3131</i><i>3181</i><i>3231</i><i>3281</i><i>3331</i><i>3381</i><i>3431</i><i>3481</i><i>3531</i><i>3581</i><i>3631</i><i>3681</i><i>3731</i><i>3781</i><i>3831</i><i>3881</i><i>3931</i><i>3981</i>
<i>A</i><i>200</i><i>50</i><i>100</i><i>150</i><i>200</i><i>50</i><i>100</i><i>150</i><i>200</i><i>50</i><i>100</i><i>150</i><i>200</i><i>50</i><i>100</i><i>150</i><i>200</i><i>50</i><i>100</i><i>150</i><i>200</i><i>50</i><i>100</i><i>150</i><i>200</i><i>50</i><i>100</i><i>150</i><i>200</i><i>50</i><i>100</i><i>150</i><i>200</i><i>50</i><i>100</i>
<i>M</i><i>9</i><i>10</i><i>10</i><i>10</i><i>10</i><i>11</i><i>11</i><i>11</i><i>11</i><i>12</i><i>12</i><i>12</i><i>12</i><i>13</i><i>13</i><i>13</i><i>13</i><i>14</i><i>14</i><i>14</i><i>14</i><i>15</i><i>15</i><i>15</i><i>15</i><i>16</i><i>16</i><i>16</i><i>16</i><i>17</i><i>17</i><i>17</i><i>17</i><i>18</i><i>18</i>
<i>N</i><i>22</i><i>24</i><i>24</i><i>24</i><i>24</i><i>26</i><i>26</i><i>26</i><i>26</i><i>28</i><i>28</i><i>28</i><i>28</i><i>30</i><i>30</i><i>30</i><i>30</i><i>32</i><i>32</i><i>32</i><i>32</i><i>34</i><i>34</i><i>34</i><i>34</i><i>36</i><i>36</i><i>36</i><i>36</i><i>38</i><i>38</i><i>38</i><i>38</i><i>40</i><i>40</i>
<i>KG</i><i>43.6</i><i>44.4</i><i>45.2</i><i>46</i><i>46.8</i><i>47.6</i><i>48.4</i><i>49.2</i><i>50</i><i>50.8</i><i>51.6</i><i>52.4</i><i>53.2</i><i>54</i><i>54.8</i><i>55.6</i><i>56.4</i><i>57.2</i><i>58</i><i>58.8</i><i>59.6</i><i>60.4</i><i>61.2</i><i>62</i><i>62.8</i><i>63.6</i><i>64.4</i><i>65.2</i><i>66</i><i>66.8</i><i>67.6</i><i>68.4</i><i>69.2</i><i>70</i><i>70.8</i>
</div>
</body></html>
